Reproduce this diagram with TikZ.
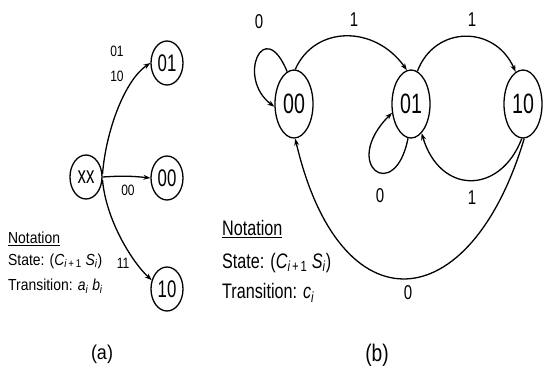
\documentclass[tikz,border=0pt]{standalone}
\usepackage{fontspec}
\setmainfont{Liberation Sans}
\usepackage{graphicx}
\usetikzlibrary{shapes.geometric,arrows.meta}
\newcommand\nrw[2]{\scalebox{#1}[1]{#2}}
\begin{document}
\begin{tikzpicture}[x=1pt,y=-1pt,
  st/.style={ellipse,draw,line width=1.3pt,inner sep=0pt},
  sta/.style={st,minimum width=32pt,minimum height=44pt},
  stb/.style={st,minimum width=38pt,minimum height=68pt},
  edge/.style={line width=1.3pt,-{Stealth[length=7pt,width=5pt]}},
  lbl/.style={inner sep=0pt},
  fa/.style={font=\fontsize{24}{24}\selectfont},
  fb/.style={font=\fontsize{28}{28}\selectfont},
  ela/.style={lbl,font=\fontsize{15}{15}\selectfont},
  elb/.style={lbl,font=\fontsize{20}{20}\selectfont},
  nota/.style={lbl,anchor=west,font=\fontsize{16}{16}\selectfont},
  notb/.style={lbl,anchor=west,font=\fontsize{21}{21}\selectfont}]
\useasboundingbox (0,0) rectangle (543,381);

% ---------- panel (a) ----------
\node[sta,fa] (axx) at (86,177) {\nrw{0.7}{xx}};
\node[sta,fa] (a01) at (167,63) {\nrw{0.7}{01}};
\node[sta,fa] (a00) at (167,178) {\nrw{0.7}{00}};
\node[sta,fa] (a10) at (167,289) {\nrw{0.7}{10}};

\draw[edge] (axx.10) .. controls (106,130) and (125,80) .. (a01.west);
\draw[edge] (axx.east) to[bend left=5] (a00.west);
\draw[edge] (axx.-10) .. controls (106,220) and (132,262) .. (a10.150);

\node[ela] (l01) at (117,51) {\nrw{0.8}{01}};
\node[ela] (l10) at (117,76) {\nrw{0.8}{10}};
\node[ela] (l00) at (128,190) {\nrw{0.8}{00}};
\node[ela] (l11) at (123,263) {\nrw{0.8}{11}};

\node[nota] (na) at (8,239) {\nrw{0.87}{\underline{Notation}}};
\node[nota] (sa) at (8,261) {\nrw{0.87}{State: (\textit{C}\textsubscript{\textit{i}\,+\,1} \textit{S}\textsubscript{\textit{i}})}};
\node[nota] (ta) at (8,286) {\nrw{0.87}{Transition: \textit{a}\textsubscript{\textit{i}} \textit{b}\textsubscript{\textit{i}}}};
\node[lbl,font=\fontsize{20}{20}\selectfont] (capa) at (102,354) {\nrw{0.9}{(a)}};

% ---------- panel (b) ----------
\node[stb,fb] (b00) at (294,104) {\nrw{0.7}{00}};
\node[stb,fb] (b01) at (411,104) {\nrw{0.7}{01}};
\node[stb,fb] (b10) at (523,104) {\nrw{0.7}{10}};

\draw[edge] (b00.102) .. controls (264,15) and (236,78) .. (b00.188);
\draw[edge] (b00.88) .. controls (315,25) and (375,25) .. (b01.97);
\draw[edge] (b01.79) .. controls (435,25) and (495,25) .. (b10.103);
\draw[edge] (b01.265) .. controls (395,205) and (340,165) .. (b01.205);
\draw[edge] (b10.268) .. controls (500,195) and (440,195) .. (b01.290);
\draw[edge] (b10.272) .. controls (470,320) and (340,330) .. (b00.272);

\node[elb] (e1) at (259,22) {\nrw{0.75}{0}};
\node[elb] (e2) at (354,20) {\nrw{0.75}{1}};
\node[elb] (e3) at (472,20) {\nrw{0.75}{1}};
\node[elb] (e4) at (380,196) {\nrw{0.75}{0}};
\node[elb] (e5) at (472,198) {\nrw{0.75}{1}};
\node[elb] (e6) at (408,293) {\nrw{0.75}{0}};

\node[notb] (nb) at (222,229) {\nrw{0.77}{\underline{Notation}}};
\node[notb] (sb) at (222,263) {\nrw{0.77}{State: (\textit{C}\textsubscript{\textit{i}\,+\,1} \textit{S}\textsubscript{\textit{i}})}};
\node[notb] (tb) at (222,293) {\nrw{0.77}{Transition: \textit{c}\textsubscript{\textit{i}}}};
\node[lbl,font=\fontsize{24}{24}\selectfont] (capb) at (377,355) {\nrw{0.8}{(b)}};
\end{tikzpicture}
\end{document}
